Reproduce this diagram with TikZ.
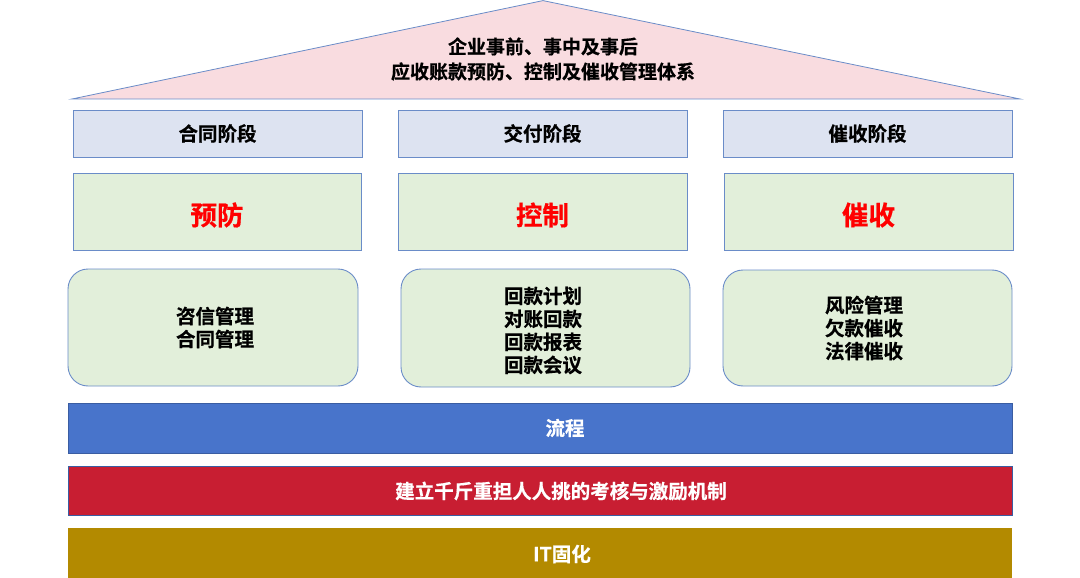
\documentclass[tikz,border=0pt]{standalone}
\usepackage{fontspec}
\newfontfamily\cjk{Noto Sans CJK SC}[BoldFont={Noto Sans CJK SC Bold},BoldFeatures={FakeBold=0.6}]
\definecolor{edge}{HTML}{6A8CC8}
\definecolor{roof}{HTML}{F9DCE0}
\definecolor{stage}{HTML}{DDE3F1}
\definecolor{leaf}{HTML}{E2EFDA}
\definecolor{barblue}{HTML}{4874CB}
\definecolor{barred}{HTML}{C81E32}
\definecolor{bargold}{HTML}{B38A00}
\definecolor{hot}{HTML}{FF0000}
\tikzset{
  px/.style={x=1pt,y=-1pt},
  box/.style={draw=edge,line width=0.9pt},
  lbl/.style={font=\cjk\bfseries\fontsize{19.5}{23}\selectfont,align=center,inner sep=0pt},
  big/.style={font=\cjk\bfseries\fontsize{26.5}{30}\selectfont,text=hot,inner sep=0pt},
  barlbl/.style={font=\cjk\bfseries\fontsize{19.5}{23}\selectfont,text=white,inner sep=0pt}
}
\begin{document}
\begin{tikzpicture}[px]
\useasboundingbox (0,0) rectangle (1080,578);
% roof
\coordinate (rl) at (72,99);
\coordinate (rr) at (1020,99);
\coordinate (ra) at (543,0.6);
\draw[box,fill=roof,line width=0.8pt] (rl) -- (ra) -- (rr) -- cycle;
\node[lbl,font=\cjk\bfseries\fontsize{19}{25}\selectfont] (title) at (543,59) {企业事前、事中及事后\\应收账款预防、控制及催收管理体系};
% stage boxes
\foreach \n/\xa/\xb/\t in {s1/73/362/合同阶段,s2/398/687/交付阶段,s3/723/1012/催收阶段}{
  \draw[box,fill=stage] (\xa,110) rectangle (\xb,157);
  \node[lbl] (\n) at ({(\xa+\xb)/2},133.5) {\t};
}
% green boxes
\foreach \n/\xa/\xb/\t in {g1/73/361/预防,g2/398/687/控制,g3/724/1013/催收}{
  \draw[box,fill=leaf] (\xa,173) rectangle (\xb,250);
  \node[big] (\n) at ({(\xa+\xb)/2},215) {\t};
}
% rounded boxes
\draw[box,fill=leaf,rounded corners=20pt] (68,269) rectangle (358,386);
\node[lbl] (d1) at (215,327.5) {咨信管理\\合同管理};
\draw[box,fill=leaf,rounded corners=20pt] (401,269) rectangle (690,387);
\node[lbl] (d2) at (543,330.5) {回款计划\\对账回款\\回款报表\\回款会议};
\draw[box,fill=leaf,rounded corners=20pt] (723,270) rectangle (1012,386);
\node[lbl] (d3) at (864,328) {风险管理\\欠款催收\\法律催收};
% bars
\draw[draw=barblue!80!black,fill=barblue,line width=0.8pt] (68,403) rectangle (1012,453);
\node[barlbl] (b1) at (565,428) {流程};
\draw[draw=barblue!80!black,fill=barred,line width=0.8pt] (68,466) rectangle (1012,515);
\node[barlbl] (b2) at (561,491) {建立千斤重担人人挑的考核与激励机制};
\fill[bargold] (68,528) rectangle (1012,578);
\node[barlbl] (b3) at (562,554) {IT固化};
\end{tikzpicture}
\end{document}
